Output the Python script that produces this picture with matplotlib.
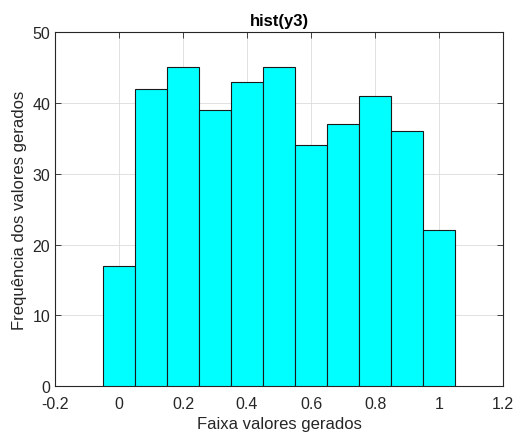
import numpy as np
import matplotlib.pyplot as plt

# histogram bins (centers) and counts
centers = [0.0, 0.1, 0.2, 0.3, 0.4, 0.5, 0.6, 0.7, 0.8, 0.9, 1.0]
counts = [17, 42, 45, 39, 43, 45, 34, 37, 41, 36, 22]
xticks = [-0.2, 0, 0.2, 0.4, 0.6, 0.8, 1, 1.2]
xticklabels = ["-0.2", "0", "0.2", "0.4", "0.6", "0.8", "1", "1.2"]
yticks = [0, 10, 20, 30, 40, 50]

plt.rcParams['font.family'] = ['Liberation Sans', 'DejaVu Sans']
txt = '#262626'

fig = plt.figure(figsize=(5.23, 4.35), dpi=100)
ax = fig.add_axes([0.105, 0.110, 0.857, 0.814])

ax.bar(centers, counts, width=0.1, color='#00ffff', edgecolor='#1a1a1a',
       linewidth=0.8, zorder=3)

ax.set_xlim(-0.2, 1.2)
ax.set_ylim(0, 50)
ax.set_xticks(xticks)
ax.set_xticklabels(xticklabels)
ax.set_yticks(yticks)
ax.grid(True, color='#dcdcdc', linewidth=0.6, zorder=0)
ax.tick_params(direction='in', length=4, width=0.6, colors=txt,
               labelsize=11.5, top=True, right=True, labeltop=False, labelright=False)
ax.tick_params(axis='x', pad=7)
for s in ax.spines.values():
    s.set_color(txt)
    s.set_linewidth(0.8)

ax.set_title('hist(y3)', fontsize=12, fontweight='bold', color='black', pad=5)
ax.set_xlabel('Faixa valores gerados', fontsize=12, color=txt, labelpad=4)
ax.set_ylabel('Frequência dos valores gerados', fontsize=12, color=txt, labelpad=4)

fig.savefig('out.png', dpi=100)
